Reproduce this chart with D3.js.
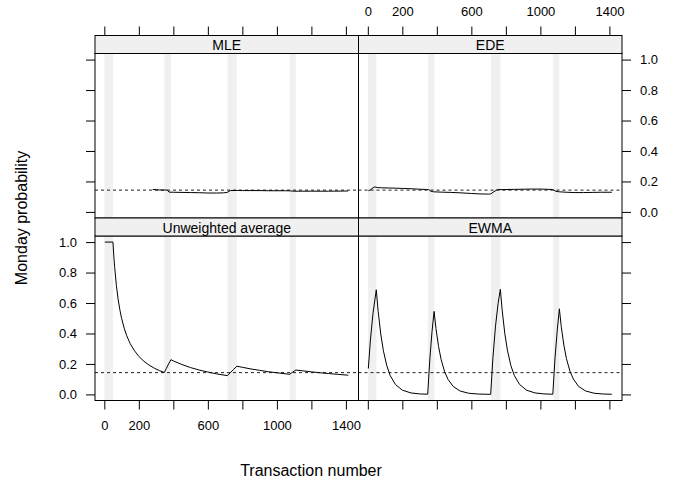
<!DOCTYPE html>
<html>
<head>
<meta charset="utf-8">
<script src="https://cdn.jsdelivr.net/npm/d3@7/dist/d3.min.js"></script>
<style>
  html, body { margin: 0; padding: 0; background: #fff; }
  svg { display: block; }
  text { font-family: "Liberation Sans", Arial, Helvetica, sans-serif; fill: #000; }
</style>
</head>
<body>
<svg id="chart" width="689" height="491"></svg>
<script>
// ---------------- data ----------------
const panelNames = ["MLE", "EDE", "Unweighted average", "EWMA"];
const mondayBands = [[0, 50], [348, 386], [714, 768], [1074, 1110]];
const refProb = 0.143;
const xTicks = [0, 200, 400, 600, 800, 1000, 1200, 1400];
const xTickLabels = ["0", "200", "", "600", "", "1000", "", "1400"];
const yTicks = [0, 0.2, 0.4, 0.6, 0.8, 1.0];
const yTickLabels = ["0.0", "0.2", "0.4", "0.6", "0.8", "1.0"];

const mleSeries = [
  [280, 0.147], [300, 0.146], [320, 0.144], [350, 0.144], [365, 0.143], [375, 0.130],
  [400, 0.129], [450, 0.128], [500, 0.127], [550, 0.126], [600, 0.124], [650, 0.124],
  [690, 0.125], [712, 0.128], [730, 0.140], [770, 0.141], [800, 0.140], [850, 0.140],
  [900, 0.140], [950, 0.139], [1000, 0.139], [1050, 0.139], [1080, 0.138], [1095, 0.136],
  [1150, 0.136], [1200, 0.136], [1300, 0.136], [1400, 0.137], [1412, 0.137]
];

const edeSeries = [
  [3, 0.139], [15, 0.145], [30, 0.158], [40, 0.164], [55, 0.160], [80, 0.158],
  [120, 0.157], [160, 0.156], [200, 0.154], [250, 0.152], [300, 0.149], [340, 0.147],
  [352, 0.147], [365, 0.136], [380, 0.132], [420, 0.130], [480, 0.128], [540, 0.125],
  [600, 0.121], [650, 0.118], [700, 0.117], [712, 0.118], [730, 0.132], [750, 0.146],
  [800, 0.147], [850, 0.148], [900, 0.149], [950, 0.150], [1000, 0.150], [1050, 0.148],
  [1072, 0.147], [1090, 0.135], [1110, 0.132], [1150, 0.129], [1200, 0.127], [1250, 0.127],
  [1300, 0.128], [1350, 0.129], [1414, 0.129]
];

const unweightedSeries = [
  [3, 1.0], [50, 1.0], [55, 0.909], [60, 0.833], [70, 0.714], [80, 0.625], [90, 0.556],
  [100, 0.500], [115, 0.435], [130, 0.385], [150, 0.333], [175, 0.286], [200, 0.250],
  [230, 0.217], [260, 0.192], [290, 0.172], [320, 0.156], [348, 0.144],
  [360, 0.172], [372, 0.199], [386, 0.228],
  [400, 0.220], [450, 0.196], [500, 0.176], [550, 0.160], [600, 0.147], [650, 0.135], [714, 0.123],
  [730, 0.142], [750, 0.165], [768, 0.185],
  [800, 0.178], [850, 0.167], [900, 0.158], [950, 0.149], [1000, 0.142], [1074, 0.132],
  [1090, 0.145], [1110, 0.160],
  [1150, 0.155], [1200, 0.148], [1250, 0.142], [1300, 0.137], [1350, 0.132], [1414, 0.126]
];

const ewmaSeries = [
  [3, 0.170], [15, 0.357], [30, 0.532], [49, 0.687],
  [60, 0.544], [75, 0.396], [90, 0.288], [110, 0.188], [130, 0.123], [160, 0.065],
  [200, 0.028], [250, 0.0096], [300, 0.0033], [347, 0.0012],
  [360, 0.241], [372, 0.412], [384, 0.545],
  [395, 0.432], [410, 0.314], [425, 0.228], [445, 0.149], [465, 0.098], [495, 0.052],
  [535, 0.022], [585, 0.0076], [640, 0.0024], [712, 0.0005],
  [725, 0.241], [740, 0.448], [755, 0.598], [768, 0.690],
  [779, 0.548], [794, 0.398], [809, 0.290], [829, 0.189], [849, 0.124], [879, 0.066],
  [919, 0.028], [969, 0.0097], [1020, 0.0033], [1072, 0.0011],
  [1085, 0.241], [1098, 0.424], [1110, 0.562],
  [1121, 0.445], [1136, 0.324], [1151, 0.235], [1171, 0.154], [1191, 0.101], [1221, 0.053],
  [1261, 0.023], [1311, 0.0079], [1361, 0.0027], [1414, 0.0009]
];

const seriesByPanel = [mleSeries, edeSeries, unweightedSeries, ewmaSeries];

// ---------------- layout ----------------
const colX = [95, 358.5];
const panelW = 263.5;
const rowTop = [35.5, 218];
const stripH = 18;
const panelH = 164.5;
const tickLen = 9;
const stripFill = "#f0f0f0";
const bandFill = "#f0f0f0";

const svg = d3.select("#chart");

const x = d3.scaleLinear().domain([-54, 1473]).range([0, panelW]);
const y = d3.scaleLinear().domain([-0.04, 1.04]).range([panelH, 0]);

const line = d3.line().x(d => x(d[0])).y(d => y(d[1]));

const defs = svg.append("defs");

// panel positions: index -> [col,row]
const pos = [[0, 0], [1, 0], [0, 1], [1, 1]];

pos.forEach((p, i) => {
  const [c, r] = p;
  const gx = colX[c];
  const gyStrip = rowTop[r];
  const gyPanel = rowTop[r] + stripH;

  defs.append("clipPath").attr("id", "clip" + i)
    .append("rect").attr("width", panelW).attr("height", panelH);

  const g = svg.append("g").attr("transform", `translate(${gx},${gyPanel})`);
  const inner = g.append("g").attr("clip-path", `url(#clip${i})`);

  // Monday bands
  inner.selectAll("rect.band").data(mondayBands).enter().append("rect")
    .attr("class", "band")
    .attr("x", d => x(d[0]))
    .attr("width", d => x(d[1]) - x(d[0]))
    .attr("y", 0).attr("height", panelH)
    .attr("fill", bandFill);

  // reference line
  inner.append("line")
    .attr("x1", 0).attr("x2", panelW)
    .attr("y1", y(refProb)).attr("y2", y(refProb))
    .attr("stroke", "#222").attr("stroke-width", 1)
    .attr("stroke-dasharray", "3,3");

  // series
  inner.append("path")
    .datum(seriesByPanel[i])
    .attr("d", line)
    .attr("fill", "none")
    .attr("stroke", "#000")
    .attr("stroke-width", 1);

  // panel border
  g.append("rect").attr("width", panelW).attr("height", panelH)
    .attr("fill", "none").attr("stroke", "#000").attr("stroke-width", 1);

  // strip
  const s = svg.append("g").attr("transform", `translate(${gx},${gyStrip})`);
  s.append("rect").attr("width", panelW).attr("height", stripH)
    .attr("fill", stripFill).attr("stroke", "#000").attr("stroke-width", 1);
  s.append("text")
    .attr("x", panelW / 2).attr("y", stripH / 2 + 0.5)
    .attr("text-anchor", "middle").attr("dominant-baseline", "central")
    .attr("font-size", 14)
    .text(panelNames[i]);

  // axes
  const fmtX = (d) => xTickLabels[xTicks.indexOf(d)];
  const fmtY = (d) => yTickLabels[yTicks.findIndex(v => Math.abs(v - d) < 1e-9)];
  const fmtNone = () => "";

  if (r === 0) {
    const ax = d3.axisTop(x).tickValues(xTicks).tickSize(tickLen).tickPadding(11)
      .tickFormat(c === 1 ? fmtX : fmtNone);
    svg.append("g").attr("transform", `translate(${gx},${gyStrip})`).call(ax);
  }
  if (r === 1) {
    const ax = d3.axisBottom(x).tickValues(xTicks).tickSize(tickLen).tickPadding(11)
      .tickFormat(c === 0 ? fmtX : fmtNone);
    svg.append("g").attr("transform", `translate(${gx},${gyPanel + panelH})`).call(ax);
  }
  if (c === 0) {
    const ax = d3.axisLeft(y).tickValues(yTicks).tickSize(tickLen).tickPadding(9)
      .tickFormat(r === 1 ? fmtY : fmtNone);
    svg.append("g").attr("transform", `translate(${gx},${gyPanel})`).call(ax);
  }
  if (c === 1) {
    const ax = d3.axisRight(y).tickValues(yTicks).tickSize(tickLen).tickPadding(9)
      .tickFormat(r === 0 ? fmtY : fmtNone);
    svg.append("g").attr("transform", `translate(${gx + panelW},${gyPanel})`).call(ax);
  }
});

// axis styling
svg.selectAll(".domain").remove();
svg.selectAll(".tick line").attr("stroke", "#000");
svg.selectAll(".tick text")
  .attr("font-size", 13)
  .attr("font-family", '"Liberation Sans", Arial, Helvetica, sans-serif')
  .attr("fill", "#000");

// axis titles
svg.append("text")
  .attr("x", 311).attr("y", 470)
  .attr("text-anchor", "middle").attr("dominant-baseline", "central")
  .attr("font-size", 16)
  .text("Transaction number");

svg.append("text")
  .attr("transform", "translate(21,218) rotate(-90)")
  .attr("text-anchor", "middle").attr("dominant-baseline", "central")
  .attr("font-size", 16)
  .text("Monday probability");
</script>
</body>
</html>
